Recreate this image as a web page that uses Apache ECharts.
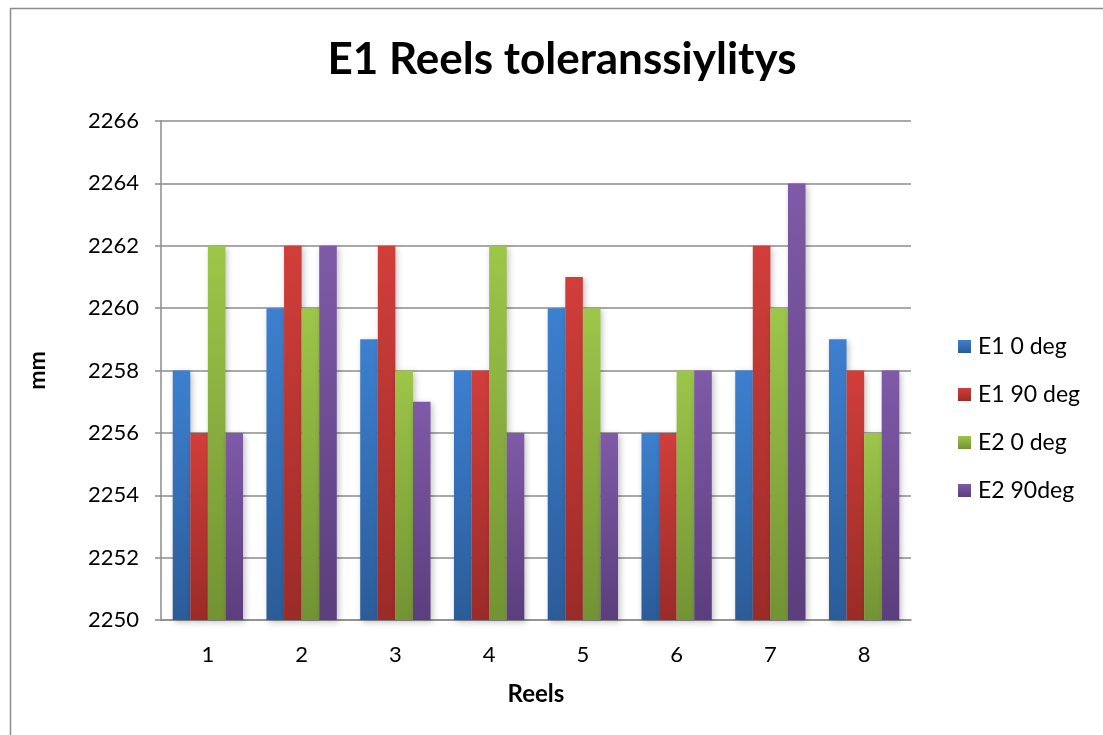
<!DOCTYPE html>
<html>
<head>
<meta charset="utf-8">
<script src="https://cdn.jsdelivr.net/npm/echarts@6/dist/echarts.min.js"></script>
<style>
  html, body { margin: 0; padding: 0; background: #fff; }
  #chart { width: 1103px; height: 735px; }
</style>
</head>
<body>
<div id="chart"></div>
<script>
// Reels 1..8
const reels = ['1', '2', '3', '4', '5', '6', '7', '8']
const e1Deg0 = [2258, 2260, 2259, 2258, 2260, 2256, 2258, 2259]
const e1Deg90 = [2256, 2262, 2262, 2258, 2261, 2256, 2262, 2258]
const e2Deg0 = [2262, 2260, 2258, 2262, 2260, 2258, 2260, 2256]
const e2Deg90 = [2256, 2262, 2257, 2256, 2256, 2258, 2264, 2258]

const font = 'Lato, "Open Sans", sans-serif'

// top -> bottom gradient like excel 2007 bars
const grad = (top, bottom) => new echarts.graphic.LinearGradient(0, 0, 0, 1, [
  {offset: 0, color: top},
  {offset: 1, color: bottom}
])

const mkSeries = (name, data, top, bottom) => ({
  name,
  type: 'bar',
  data,
  barGap: 0,
  barCategoryGap: '25%',
  itemStyle: {
    color: grad(top, bottom),
    shadowColor: 'rgba(0,0,0,0.25)',
    shadowBlur: 6,
    shadowOffsetX: 2,
    shadowOffsetY: 2
  }
})

const myChart = echarts.init(document.getElementById('chart'))
const option = {
  animation: false,
  backgroundColor: '#fff',
  graphic: [
    {
      type: 'rect',
      shape: {x: 10.5, y: 8.5, width: 1200, height: 800},
      style: {fill: 'none', stroke: '#8c8c8c', lineWidth: 1.5},
      silent: true
    }
  ],
  title: {
    text: 'E1 Reels toleranssiylitys',
    left: 557,
    top: 33,
    textAlign: 'center',
    textStyle: {fontFamily: font, fontSize: 44, fontWeight: 'bold', color: '#000'}
  },
  legend: {
    orient: 'vertical',
    left: 953,
    top: 330,
    itemGap: 25,
    itemWidth: 13,
    itemHeight: 13,
    icon: 'rect',
    textStyle: {fontFamily: font, fontSize: 23, color: '#000', padding: [0, 0, 0, 2]},
    data: ['E1 0 deg', 'E1 90 deg', 'E2 0 deg', 'E2 90deg']
  },
  grid: {left: 161, right: 192, top: 121, bottom: 115},
  xAxis: {
    type: 'category',
    data: reels,
    name: 'Reels',
    nameLocation: 'middle',
    nameGap: 62,
    nameTextStyle: {fontFamily: font, fontSize: 24, fontWeight: 'bold', color: '#000'},
    axisLine: {lineStyle: {color: '#8c8c8c', width: 1.5}},
    axisTick: {show: false},
    axisLabel: {fontFamily: font, fontSize: 22, color: '#000', margin: 24}
  },
  yAxis: {
    type: 'value',
    min: 2250,
    max: 2266,
    interval: 2,
    name: 'mm',
    nameLocation: 'middle',
    nameGap: 112,
    nameRotate: 90,
    nameTextStyle: {fontFamily: font, fontSize: 23, fontWeight: 'bold', color: '#000'},
    axisLine: {show: true, lineStyle: {color: '#8c8c8c', width: 1.5}},
    axisTick: {show: true, length: 6, lineStyle: {color: '#8c8c8c', width: 1.5}},
    splitLine: {lineStyle: {color: '#8c8c8c', width: 1.5}},
    axisLabel: {fontFamily: font, fontSize: 22, color: '#000', margin: 22, formatter: v => String(v)}
  },
  series: [
    mkSeries('E1 0 deg', e1Deg0, '#3d80d0', '#2b5c98'),
    mkSeries('E1 90 deg', e1Deg90, '#d13e3a', '#9b2b28'),
    mkSeries('E2 0 deg', e2Deg0, '#9dc649', '#739334'),
    mkSeries('E2 90deg', e2Deg90, '#7f5aa8', '#5b3e7d')
  ]
}
myChart.setOption(option)
</script>
</body>
</html>
